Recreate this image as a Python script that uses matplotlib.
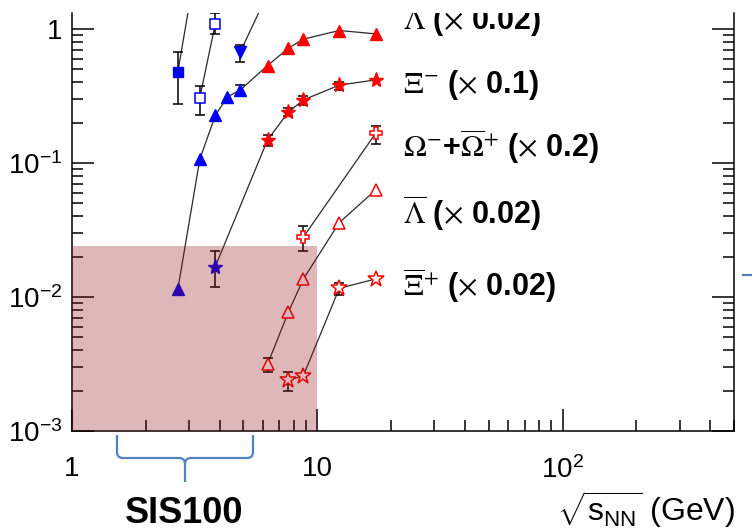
import numpy as np
import matplotlib
matplotlib.use("Agg")
import matplotlib.pyplot as plt
from matplotlib.path import Path
from matplotlib.patches import PathPatch
from matplotlib.ticker import LogLocator, FuncFormatter

plt.rcParams["font.family"] = ["Liberation Sans", "DejaVu Sans"]
plt.rcParams["mathtext.fontset"] = "custom"
plt.rcParams["mathtext.rm"] = "Liberation Sans"
plt.rcParams["mathtext.it"] = "Liberation Sans"
plt.rcParams["mathtext.bf"] = "Liberation Sans:bold"

# sqrt(s_NN) in GeV
lam_x = [2.70, 3.32, 3.84, 4.30, 4.86, 6.27, 7.62, 8.77, 12.3, 17.3]
lam_y = [0.0114, 0.107, 0.227, 0.312, 0.352, 0.535, 0.72, 0.842, 0.977, 0.922]
lam_lo = [0, 0, 0, 0, 0.03, 0, 0, 0, 0, 0]
lam_hi = [0, 0, 0, 0, 0.03, 0, 0, 0, 0, 0]
lam_n_blue = 5

xi_x = [3.84, 6.27, 7.62, 8.77, 12.3, 17.3]
xi_y = [0.0169, 0.149, 0.240, 0.296, 0.382, 0.418]
xi_lo = [0.0051, 0.014, 0.017, 0.026, 0.032, 0]
xi_hi = [0.0052, 0.0135, 0.020, 0.020, 0.023, 0]
xi_n_blue = 1

om_x = [8.77, 17.3]
om_y = [0.028, 0.167]
om_lo = [0.0059, 0.027]
om_hi = [0.006, 0.023]

alam_x = [6.27, 7.62, 8.77, 12.3, 17.3]
alam_y = [0.00315, 0.0077, 0.0136, 0.036, 0.063]
alam_lo = [0.00038, 0, 0, 0, 0]
alam_hi = [0.00038, 0, 0, 0, 0]

axi_x = [7.62, 8.77, 12.3, 17.3]
axi_y = [0.0024, 0.00258, 0.01163, 0.01365]
axi_lo = [0.0004, 0, 0.0012, 0]
axi_hi = [0.00034, 0, 0.0011, 0]

# blue low-energy series running off the top of the frame
bsq_x = [2.70, 3.32]
bsq_y = [0.477, 4.4]
bsq_lo = [0.2, 0]
bsq_hi = [0.2, 0]

osq_x = [3.32, 3.84]
osq_y = [0.308, 1.10]
osq_lo = [0.079, 0.18]
osq_hi = [0.071, 0.22]

inv_x = [4.86, 6.27]
inv_y = [0.68, 1.83]
inv_lo = [0.113, 0]
inv_hi = [0.084, 0]

labels = [
    r"$\Lambda$ ($\times$ 0.02)",
    r"$\Xi^{-}$ ($\times$ 0.1)",
    r"$\Omega^{-}$+$\overline{\Omega}^{+}$ ($\times$ 0.2)",
    r"$\overline{\Lambda}$ ($\times$ 0.02)",
    r"$\overline{\Xi}^{+}$ ($\times$ 0.02)",
]
label_y = [1.0, 0.333, 0.112, 0.0351, 0.0101]

W, H = 752, 532
fig = plt.figure(figsize=(W / 100, H / 100), dpi=100)
ax = fig.add_axes([72 / W, 1 - 431 / H, (734 - 72) / W, (431 - 13) / H])
ax.set_xscale("log")
ax.set_yscale("log")
ax.set_xlim(1, 500)
ax.set_ylim(1e-3, 1.32)

LINE = "#2a2a2a"
BLUE = "#0000f0"
RED = "#ff0000"


def series(x, y, lo, hi, parts):
    ax.plot(x, y, color=LINE, lw=0.9, zorder=2)
    x, y, lo, hi = map(np.asarray, (x, y, lo, hi))
    has = (lo > 0) | (hi > 0)
    if has.any():
        ax.errorbar(x[has], y[has], yerr=[lo[has], hi[has]], fmt="none",
                    ecolor="black", elinewidth=1.1, capsize=3.5, capthick=1.1,
                    zorder=3)
    for sl, kw in parts:
        ax.plot(x[sl], y[sl], ls="none", zorder=4, **kw)


def filled(marker, color, ms):
    return dict(marker=marker, color=color, ms=ms, mec=color)


def hollow(marker, color, ms):
    return dict(marker=marker, mfc="white", mec=color, ms=ms, mew=1.1)


series(lam_x, lam_y, lam_lo, lam_hi,
       [(slice(0, lam_n_blue), filled("^", BLUE, 9)),
        (slice(lam_n_blue, None), filled("^", RED, 9))])
series(xi_x, xi_y, xi_lo, xi_hi,
       [(slice(0, xi_n_blue), filled("*", BLUE, 11)),
        (slice(xi_n_blue, None), filled("*", RED, 11))])
series(om_x, om_y, om_lo, om_hi, [(slice(None), hollow("P", RED, 8.5))])
series(alam_x, alam_y, alam_lo, alam_hi, [(slice(None), hollow("^", RED, 8.5))])
series(axi_x, axi_y, axi_lo, axi_hi, [(slice(None), hollow("*", RED, 12))])
series(bsq_x, bsq_y, bsq_lo, bsq_hi, [(slice(None), filled("s", BLUE, 7.5))])
series(osq_x, osq_y, osq_lo, osq_hi, [(slice(None), hollow("s", BLUE, 7.5))])
series(inv_x, inv_y, inv_lo, inv_hi, [(slice(None), filled("v", BLUE, 9))])

# SIS100 energy range shading, drawn over the markers
ax.fill_between([1, 10], 1e-3, 0.0242, color="#941219", alpha=0.3, lw=0,
                zorder=6)

for txt, yv in zip(labels, label_y):
    ax.text(22.4, yv, txt, fontsize=22, fontweight="bold", va="baseline",
            ha="left", math_fontfamily="stix", clip_on=True, zorder=7)


def log_label(v, pos):
    e = int(round(np.log10(v)))
    if e == 0:
        return "1"
    if e == 1:
        return "10"
    return r"$10^{%d}$" % e


for axis in (ax.xaxis, ax.yaxis):
    axis.set_major_locator(LogLocator(base=10, numticks=10))
    axis.set_minor_locator(LogLocator(base=10, subs=np.arange(2, 10), numticks=10))
    axis.set_major_formatter(FuncFormatter(log_label))
    axis.set_minor_formatter(FuncFormatter(lambda v, p: ""))

ax.tick_params(which="both", direction="in", top=False, right=True,
               width=1.1, color="black")
ax.tick_params(which="major", length=16, labelsize=20)
ax.tick_params(which="minor", length=8)
ax.tick_params(axis="x", which="major", pad=18)
ax.tick_params(axis="y", which="major", pad=7)
ax.spines["top"].set_visible(False)
for s in ("left", "right", "bottom"):
    ax.spines[s].set_linewidth(1.1)


def px(x, y):
    return (x / W, 1 - y / H)


# curly brace below the SIS100 range
brace = [
    (Path.MOVETO, (117, 435)), (Path.LINETO, (117, 452)),
    (Path.CURVE3, (117, 458)), (Path.CURVE3, (123, 458)),
    (Path.LINETO, (179, 458)),
    (Path.CURVE3, (185, 458)), (Path.CURVE3, (185, 464)),
    (Path.LINETO, (185, 482)),
    (Path.MOVETO, (185, 464)),
    (Path.CURVE3, (185, 458)), (Path.CURVE3, (191, 458)),
    (Path.LINETO, (247, 458)),
    (Path.CURVE3, (253, 458)), (Path.CURVE3, (253, 452)),
    (Path.LINETO, (253, 435)),
]
codes = [c for c, _ in brace]
verts = [px(*p) for _, p in brace]
fig.patches.append(PathPatch(Path(verts, codes), transform=fig.transFigure,
                             fill=False, edgecolor="#4f81bd", lw=1.6))
fig.lines.append(plt.Line2D([743 / W, 1.0], [1 - 275 / H] * 2,
                            transform=fig.transFigure, color="#4f81bd", lw=1.6))

fig.text(*px(184, 523), "SIS100", fontsize=26, fontweight="bold",
         ha="center", va="baseline")
fig.text(*px(735, 521), r"$\sqrt{\mathrm{s}_{\mathrm{NN}}}$ (GeV)", fontsize=23,
         ha="right", va="baseline")

fig.savefig("out.png", dpi=100)
